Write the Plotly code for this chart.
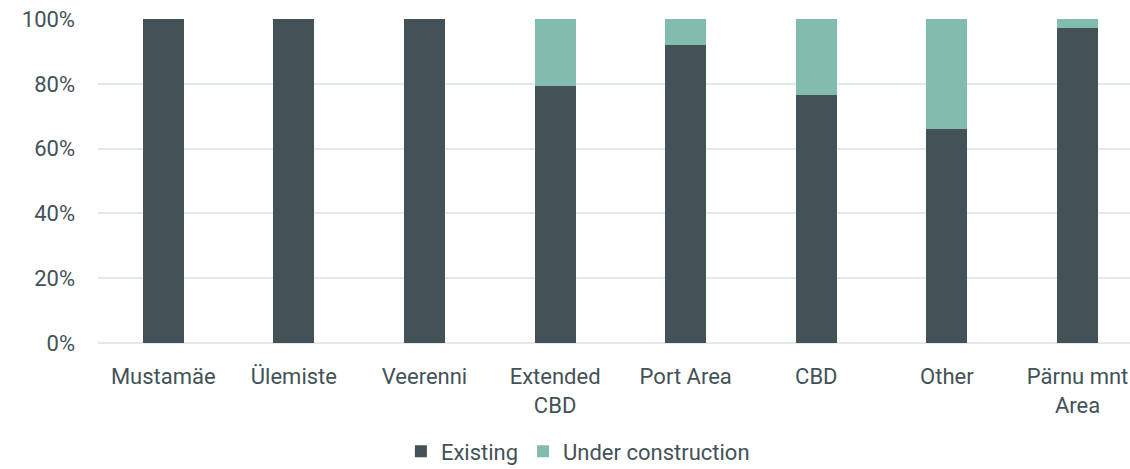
import plotly.graph_objects as go

categories = ["Mustamäe", "Ülemiste", "Veerenni", "Extended<br>CBD", "Port Area", "CBD", "Other", "Pärnu mnt<br>Area"]
existing = [100, 100, 100, 79.4, 92.1, 76.6, 65.9, 97.2]
under_construction = [0, 0, 0, 20.6, 7.9, 23.4, 34.1, 2.8]
y_ticks = [0, 20, 40, 60, 80, 100]
y_tick_labels = ["0%", "20%", "40%", "60%", "80%", "100%"]

DARK = "#435257"
TEAL = "#82bcae"
TEXT = "#435257"
GRID = "#e3e8e8"

fig = go.Figure()
fig.add_trace(go.Bar(x=list(range(len(categories))), y=existing, name="Existing",
                     marker=dict(color=DARK, line=dict(width=0)), width=0.314))
fig.add_trace(go.Bar(x=list(range(len(categories))), y=under_construction, name="Under construction",
                     marker=dict(color=TEAL, line=dict(width=0)), width=0.314))

fig.update_layout(
    barmode="stack",
    width=1130, height=469,
    margin=dict(l=98, r=0, t=19, b=126, autoexpand=False),
    paper_bgcolor="white", plot_bgcolor="white",
    font=dict(family="Roboto", size=22, color=TEXT),
    showlegend=True,
    legend=dict(orientation="h", x=0.465, xanchor="center", y=-0.335, yanchor="middle",
                font=dict(size=22, color=TEXT), itemwidth=30, traceorder="normal",
                itemclick=False),
    bargap=0.686,
)
fig.update_xaxes(
    tickmode="array", tickvals=list(range(len(categories))), ticktext=categories,
    range=[-0.5, 7.402], showgrid=False, showline=False, zeroline=False,
    ticks="", ticklabelstandoff=18, tickfont=dict(size=22, color=TEXT),
)
fig.update_yaxes(
    range=[0, 100], tickmode="array", tickvals=y_ticks, ticktext=y_tick_labels,
    showgrid=True, gridcolor=GRID, gridwidth=1.5, zeroline=True, zerolinecolor=GRID,
    zerolinewidth=1.5, showline=False, ticks="", ticklabelstandoff=22,
    tickfont=dict(size=22, color=TEXT),
)

fig.write_html("out.html")
